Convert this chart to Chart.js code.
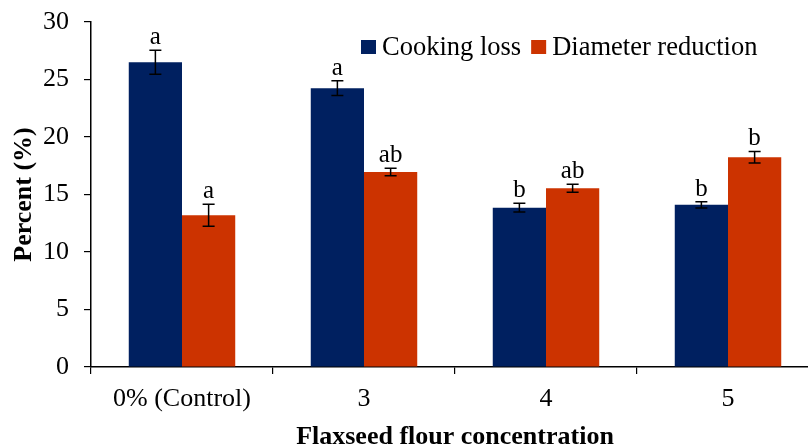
<!DOCTYPE html>
<html>
<head>
<meta charset="utf-8">
<script src="https://cdn.jsdelivr.net/npm/chart.js@4.4.0/dist/chart.umd.min.js"></script>
<style>
  html, body { margin: 0; padding: 0; background: #fff; overflow: hidden; }
  #wrap { width: 819px; height: 453px; }
</style>
</head>
<body>
<div id="wrap"><canvas id="chart" width="819" height="453"></canvas></div>
<script>
// data
const categories = ['0% (Control)', '3', '4', '5'];
const cookingLoss = [26.5, 24.25, 13.85, 14.1];
const cookingErr = [1.05, 0.65, 0.38, 0.27];
const cookingLetters = ['a', 'a', 'b', 'b'];
const diameterRed = [13.2, 16.95, 15.55, 18.25];
const diameterErr = [0.95, 0.33, 0.35, 0.5];
const diameterLetters = ['a', 'ab', 'ab', 'b'];
const yTicks = [0, 5, 10, 15, 20, 25, 30];

const SERIF = '"Liberation Serif", "Times New Roman", serif';
const BLUE = '#002060';
const ORANGE = '#cc3300';

const errorBars = {
    id: 'errorBars',
    afterDatasetsDraw(chart) {
        const ctx = chart.ctx;
        const y = chart.scales.y;
        const errs = [cookingErr, diameterErr];
        const letters = [cookingLetters, diameterLetters];
        ctx.save();
        ctx.strokeStyle = '#000';
        ctx.lineWidth = 1.5;
        chart.data.datasets.forEach((ds, i) => {
            chart.getDatasetMeta(i).data.forEach((bar, j) => {
                const v = ds.data[j];
                const top = y.getPixelForValue(v + errs[i][j]);
                const bot = y.getPixelForValue(v - errs[i][j]);
                const x = bar.x;
                ctx.beginPath();
                ctx.moveTo(x, top); ctx.lineTo(x, bot);
                ctx.moveTo(x - 6, top); ctx.lineTo(x + 6, top);
                ctx.moveTo(x - 6, bot); ctx.lineTo(x + 6, bot);
                ctx.stroke();
                ctx.fillStyle = '#000';
                ctx.font = '25px ' + SERIF;
                ctx.textAlign = 'center';
                ctx.textBaseline = 'alphabetic';
                ctx.fillText(letters[i][j], x, top - 6);
            });
        });
        // legend inside the plot
        ctx.font = '26.5px ' + SERIF;
        ctx.textBaseline = 'middle';
        ctx.textAlign = 'left';
        let lx = 361;
        const ly = 47;
        chart.data.datasets.forEach((ds) => {
            ctx.fillStyle = ds.backgroundColor;
            ctx.fillRect(lx, ly - 7, 15, 14);
            ctx.fillStyle = '#000';
            ctx.fillText(ds.label, lx + 21, ly + 1);
            lx += 21 + ctx.measureText(ds.label).width + 10;
        });
        ctx.restore();
    }
};

new Chart(document.getElementById('chart'), {
    type: 'bar',
    data: {
        labels: categories,
        datasets: [
            { label: 'Cooking loss', data: cookingLoss, backgroundColor: BLUE },
            { label: 'Diameter reduction', data: diameterRed, backgroundColor: ORANGE }
        ]
    },
    options: {
        responsive: false,
        animation: false,
        layout: { padding: { top: 0, right: 0, left: 6, bottom: 0 } },
        datasets: { bar: { categoryPercentage: 0.585, barPercentage: 1.0 } },
        plugins: { legend: { display: false }, tooltip: { enabled: false } },
        scales: {
            x: {
                afterFit: (axis) => { axis.height = 86; },
                grid: { display: true, drawOnChartArea: false, drawTicks: true, tickLength: 7, color: '#000', lineWidth: 1.2 },
                border: { display: true, color: '#000', width: 1.5 },
                ticks: { color: '#000', font: { family: SERIF, size: 26 }, padding: 10 },
                title: { display: true, text: 'Flaxseed flour concentration', color: '#000', font: { family: SERIF, size: 26, weight: 'bold' }, padding: { top: 4, bottom: 0 } }
            },
            y: {
                min: 0,
                max: 30,
                afterBuildTicks: (axis) => { axis.ticks = yTicks.map(v => ({ value: v })); },
                afterFit: (axis) => { axis.width = 85; axis.paddingTop = 22; axis.paddingBottom = 0; },
                grid: { display: true, drawOnChartArea: false, drawTicks: true, tickLength: 7, color: '#000', lineWidth: 1.2 },
                border: { display: true, color: '#000', width: 1.5 },
                ticks: { color: '#000', font: { family: SERIF, size: 26 }, padding: 15 },
                title: { display: true, text: 'Percent (%)', color: '#000', font: { family: SERIF, size: 26, weight: 'bold' }, padding: { top: 3, bottom: 0 } }
            }
        }
    },
    plugins: [errorBars]
});
</script>
</body>
</html>
